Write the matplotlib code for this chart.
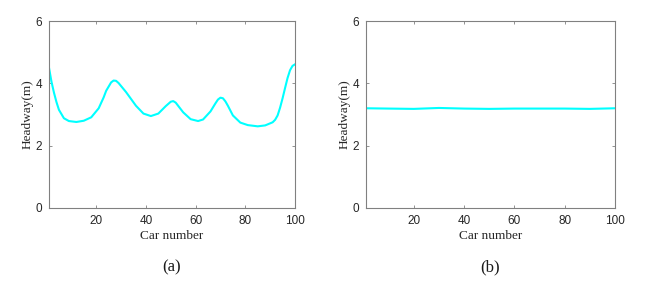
import matplotlib
matplotlib.use("Agg")
import matplotlib.pyplot as plt

# (a) headway
car_a = [1, 2, 3, 4, 5, 7, 9, 12, 15, 18, 21, 23, 24, 26, 27, 28, 29, 32, 36,
         39, 42, 45, 48, 50, 51, 52, 55, 58, 61, 63, 66, 68, 69, 70, 71, 72,
         73, 75, 78, 81, 85, 88, 91, 92, 93, 94, 95, 96, 97, 98, 99, 100]
headway_a = [4.50, 4.05, 3.70, 3.40, 3.15, 2.88, 2.79, 2.76, 2.80, 2.91, 3.20,
             3.55, 3.76, 4.03, 4.09, 4.08, 4.01, 3.72, 3.28, 3.03, 2.95, 3.03,
             3.27, 3.41, 3.43, 3.38, 3.07, 2.85, 2.79, 2.84, 3.10, 3.36, 3.48,
             3.54, 3.52, 3.42, 3.28, 2.97, 2.74, 2.66, 2.62, 2.65, 2.75, 2.83,
             2.97, 3.22, 3.52, 3.85, 4.17, 4.42, 4.56, 4.61]

# (b) nearly flat headway
car_b = [1, 10, 20, 30, 40, 50, 60, 70, 80, 90, 100]
headway_b = [3.20, 3.19, 3.18, 3.21, 3.19, 3.18, 3.19, 3.19, 3.19, 3.18, 3.20]

x_ticks = [20, 40, 60, 80, 100]
y_ticks = [0, 2, 4, 6]

fig = plt.figure(figsize=(6.68, 2.82), dpi=100)
ax_a = fig.add_axes([49 / 668, 1 - 208 / 282, 246 / 668, 187 / 282])
ax_b = fig.add_axes([366 / 668, 1 - 208 / 282, 249 / 668, 187 / 282])

for ax, xs, ys, tag in [(ax_a, car_a, headway_a, "(a)"),
                        (ax_b, car_b, headway_b, "(b)")]:
    ax.plot(xs, ys, color="#00FFFF", linewidth=1.5)
    ax.set_xlim(1, 100)
    ax.set_ylim(0, 6)
    ax.set_xticks(x_ticks)
    ax.set_yticks(y_ticks)
    ax.tick_params(direction="in", length=2.5, width=0.6, colors="#808080",
                   labelcolor="#262626", labelsize=8.5, top=True, right=True)
    ax.tick_params(axis="x", pad=5)
    ax.tick_params(axis="y", pad=5)
    for lbl in ax.get_xticklabels() + ax.get_yticklabels():
        lbl.set_family("Liberation Sans")
    for s in ax.spines.values():
        s.set_color("#808080")
        s.set_linewidth(0.8)
    ax.set_xlabel("Car number", family="Liberation Serif", fontsize=9.5,
                  color="#262626", labelpad=2)
    ax.set_ylabel("Headway(m)", family="Liberation Serif", fontsize=9.5,
                  color="#262626", labelpad=1)
    ax.text(0.5, -0.316, tag, transform=ax.transAxes, ha="center", va="center",
            family="Liberation Serif", fontsize=12, color="#1a1a1a")

fig.savefig("out.png", dpi=100)
